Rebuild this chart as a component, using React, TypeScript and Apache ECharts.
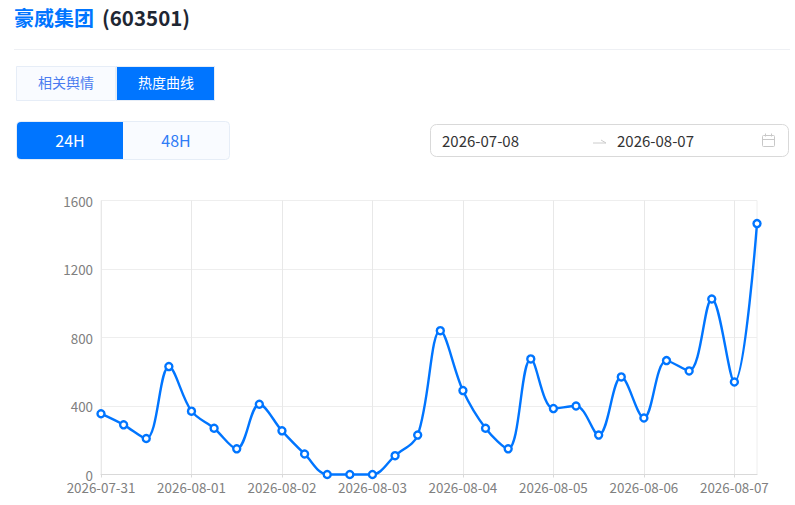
import React, { useEffect, useRef } from "react";
import * as echarts from "echarts";

const categories = [
  "2026-07-31 00:00", "2026-07-31 06:00", "2026-07-31 12:00", "2026-07-31 18:00",
  "2026-08-01 00:00", "2026-08-01 06:00", "2026-08-01 12:00", "2026-08-01 18:00",
  "2026-08-02 00:00", "2026-08-02 06:00", "2026-08-02 12:00", "2026-08-02 18:00",
  "2026-08-03 00:00", "2026-08-03 06:00", "2026-08-03 12:00", "2026-08-03 18:00",
  "2026-08-04 00:00", "2026-08-04 06:00", "2026-08-04 12:00", "2026-08-04 18:00",
  "2026-08-05 00:00", "2026-08-05 06:00", "2026-08-05 12:00", "2026-08-05 18:00",
  "2026-08-06 00:00", "2026-08-06 06:00", "2026-08-06 12:00", "2026-08-06 18:00",
  "2026-08-07 00:00", "2026-08-07 06:00",
];
const heat = [
  355, 290, 210, 630, 370, 270, 150, 410, 255, 120, 0, 0, 0, 110, 230,
  840, 490, 270, 150, 675, 385, 400, 230, 570, 330, 665, 605, 1025, 540, 1465,
];
const yTicks = { min: 0, max: 1600, interval: 400 };

const FONT = '"Noto Sans CJK SC", "Noto Sans", sans-serif';
const BLUE = "#0075ff";
const PALE = "#f9fbff";
const EDGE = "#e6edf7";

function label(x: number, y: number, text: string, fill: string, fontSize = 14, fontWeight: any = 400, align = "center") {
  return { type: "text", x, y, silent: true, style: { text, fill, fontSize, fontWeight, fontFamily: FONT, align, verticalAlign: "middle" } };
}
function box(x: number, y: number, width: number, height: number, fill: string, stroke?: string, r: any = 0) {
  return { type: "rect", silent: true, shape: { x, y, width, height, r }, style: { fill, stroke: stroke || "none", lineWidth: stroke ? 1 : 0 } };
}

export default function App() {
  const ref = useRef<HTMLDivElement>(null);
  useEffect(() => {
    const chart = echarts.init(ref.current!, undefined, { renderer: "svg" });
    chart.setOption({
      animation: false,
      backgroundColor: "#ffffff",
      textStyle: { fontFamily: FONT },
      grid: { left: 101, right: 38, top: 200.5, bottom: 30.5, show: true, borderColor: "#eeeeee", borderWidth: 1 },
      xAxis: {
        type: "category",
        data: categories,
        boundaryGap: false,
        axisLine: { lineStyle: { color: "#d9d9d9" } },
        axisTick: { alignWithLabel: true, interval: 3, length: 3, lineStyle: { color: "#d9d9d9" } },
        splitLine: { show: true, interval: 3, lineStyle: { color: "#e8e8e8" } },
        axisLabel: {
          interval: 3, color: "#808080", fontSize: 13.4, lineHeight: 11, margin: 7, fontFamily: FONT, hideOverlap: false,
          formatter: (v: string) => v.slice(0, 10),
        },
      },
      yAxis: {
        type: "value",
        min: yTicks.min, max: yTicks.max, interval: yTicks.interval,
        axisLine: { show: false },
        axisTick: { show: false },
        splitLine: { lineStyle: { color: "#eeeeee" } },
        axisLabel: { color: "#808080", fontSize: 13.4, lineHeight: 11, margin: 8, fontFamily: FONT, padding: [0, 0, 2, 0], formatter: (v: number) => String(v) },
      },
      series: [{
        type: "line",
        data: heat,
        smooth: 0.35,
        symbol: "circle",
        symbolSize: 7,
        showSymbol: true,
        clip: false,
        lineStyle: { color: BLUE, width: 2.4 },
        itemStyle: { color: "#ffffff", borderColor: BLUE, borderWidth: 2.4 },
      }],
      graphic: [
        label(14, 17, "豪威集团", BLUE, 20, 700, "left"),
        label(102, 17, "(603501)", "#1f2733", 20.5, 700, "left"),
        { type: "line", silent: true, shape: { x1: 14, y1: 49.5, x2: 790, y2: 49.5 }, style: { stroke: "#eef0f4", lineWidth: 1 } },

        box(16.5, 66.5, 99, 34, PALE, EDGE),
        box(116.5, 66.5, 98, 34, BLUE, EDGE),
        label(66, 82, "相关舆情", "#4a7bf0", 14),
        label(166, 82, "热度曲线", "#ffffff", 14),

        box(16.5, 121.5, 213, 38, PALE, EDGE, 4),
        box(17, 122, 106, 37, BLUE, undefined, [4, 0, 0, 4]),
        label(70, 140, "24H", "#ffffff", 16),
        label(176, 140, "48H", "#2f7cf6", 16),

        box(430.5, 124.5, 358, 32, "#ffffff", "#d9d9d9", 6),
        label(442, 140, "2026-07-08", "#333333", 15, 400, "left"),
        label(617, 140, "2026-08-07", "#333333", 15, 400, "left"),
        { type: "polyline", silent: true, shape: { points: [[593, 143], [606, 143], [601, 140]] }, style: { stroke: "#cccccc", fill: "none", lineWidth: 1 } },
        box(762.5, 135.5, 12, 11, "none", "#c8c8c8", 1),
        { type: "line", silent: true, shape: { x1: 762, y1: 139.5, x2: 775, y2: 139.5 }, style: { stroke: "#c8c8c8", lineWidth: 1 } },
        { type: "line", silent: true, shape: { x1: 765.5, y1: 133.5, x2: 765.5, y2: 136.5 }, style: { stroke: "#c8c8c8", lineWidth: 1 } },
        { type: "line", silent: true, shape: { x1: 771.5, y1: 133.5, x2: 771.5, y2: 136.5 }, style: { stroke: "#c8c8c8", lineWidth: 1 } },
      ],
    });
    return () => chart.dispose();
  }, []);
  return <div ref={ref} style={{ position: "fixed", left: 0, top: 0, width: 795, height: 505 }} />;
}
